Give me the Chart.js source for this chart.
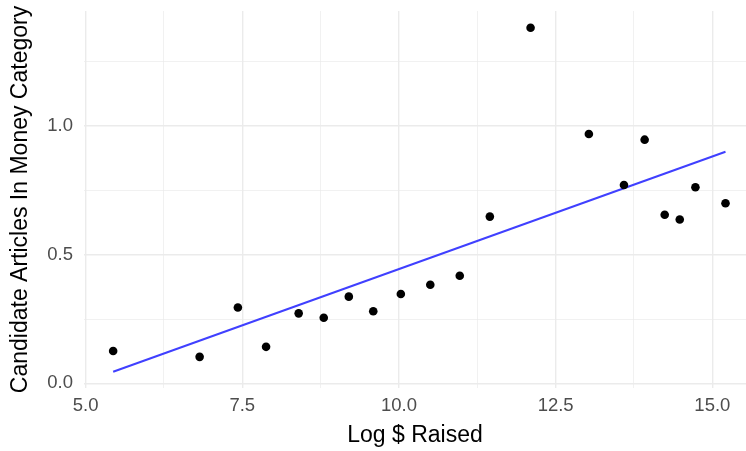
<!DOCTYPE html>
<html>
<head>
<meta charset="utf-8">
<script src="https://cdn.jsdelivr.net/npm/chart.js@4"></script>
<style>
  html, body { margin: 0; padding: 0; background: #fff; }
  #wrap { width: 746px; height: 451px; }
</style>
</head>
<body>
<div id="wrap"><canvas id="chart" width="746" height="451"></canvas></div>
<script>
"use strict";

// Точки: логарифм собранной суммы и доля статей про деньги.
const LOG_RAISED = [5.44, 6.82, 7.43, 7.88, 8.40, 8.80, 9.20, 9.59, 10.03, 10.50,
  10.97, 11.45, 12.10, 13.03, 13.59, 13.92, 14.24, 14.48, 14.73, 15.21];
const MONEY_ARTICLES = [0.126, 0.103, 0.295, 0.142, 0.272, 0.255, 0.337, 0.280, 0.347, 0.383,
  0.418, 0.648, 1.382, 0.969, 0.771, 0.947, 0.655, 0.637, 0.762, 0.700];

// Линия тренда (концы).
const FIT_X = [5.44, 15.21];
const FIT_Y = [0.045, 0.900];

// Деления осей: подписанные и промежуточные (только сетка).
const X_MAJOR = [5, 7.5, 10, 12.5, 15];
const X_MINOR = [6.25, 8.75, 11.25, 13.75];
const Y_MAJOR = [0, 0.5, 1];
const Y_MINOR = [0.25, 0.75, 1.25];

const GRID = "#EBEBEB";
const TICK_COLOR = "#4D4D4D";
const FONT = "'Liberation Sans', Arial, sans-serif";

const byValue = (a, b) => a - b;
const xTicks = [...X_MAJOR, ...X_MINOR].sort(byValue);
const yTicks = [...Y_MAJOR, ...Y_MINOR].sort(byValue);

function gridWidth(major) {
  return (c) => (c.tick && major.includes(c.tick.value) ? 1.4 : 0.7);
}

// Убираем внутренние отступы осей, чтобы область графика была как в оригинале.
function noPad(s) {
  s.paddingTop = 0; s.paddingBottom = 0; s.paddingLeft = 0; s.paddingRight = 0;
}

new Chart(document.getElementById("chart"), {
  type: "scatter",
  data: {
    datasets: [
      {
        data: LOG_RAISED.map((x, i) => ({ x, y: MONEY_ARTICLES[i] })),
        backgroundColor: "#000",
        borderColor: "#000",
        pointRadius: 4.3,
        borderWidth: 0,
        order: 0,
      },
      {
        data: FIT_X.map((x, i) => ({ x, y: FIT_Y[i] })),
        showLine: true,
        borderColor: "#4040FF",
        borderWidth: 2,
        pointRadius: 0,
        order: 1,
      },
    ],
  },
  options: {
    responsive: false,
    devicePixelRatio: 1,
    animation: false,
    layout: { autoPadding: false, padding: { top: 11, right: 0, left: 0, bottom: 0 } },
    plugins: { legend: { display: false }, tooltip: { enabled: false } },
    scales: {
      x: {
        type: "linear",
        min: 4.975,
        max: 15.537,
        afterBuildTicks: (s) => { s.ticks = xTicks.map((v) => ({ value: v })); },
        afterFit: (s) => { s.height = 63; noPad(s); },
        border: { display: false },
        grid: { color: GRID, lineWidth: gridWidth(X_MAJOR), drawTicks: false },
        ticks: {
          autoSkip: false, maxRotation: 0, padding: 7,
          color: TICK_COLOR, font: { family: FONT, size: 18.5 },
          callback: (v) => (X_MAJOR.includes(v) ? v.toFixed(1) : ""),
        },
        title: {
          display: true, text: "Log $ Raised", color: "#000",
          font: { family: FONT, size: 23 }, padding: { top: 0, bottom: 2 },
        },
      },
      y: {
        type: "linear",
        min: -0.018,
        max: 1.447,
        afterBuildTicks: (s) => { s.ticks = yTicks.map((v) => ({ value: v })); },
        afterFit: (s) => { s.width = 84; noPad(s); },
        border: { display: false },
        grid: { color: GRID, lineWidth: gridWidth(Y_MAJOR), drawTicks: false },
        ticks: {
          autoSkip: false, padding: 11,
          color: TICK_COLOR, font: { family: FONT, size: 18.5 },
          callback: (v) => (Y_MAJOR.includes(v) ? v.toFixed(1) : ""),
        },
        title: {
          display: true, text: "Candidate Articles In Money Category", color: "#000",
          font: { family: FONT, size: 23 }, padding: { top: 7, bottom: 0 },
        },
      },
    },
  },
});
</script>
</body>
</html>
